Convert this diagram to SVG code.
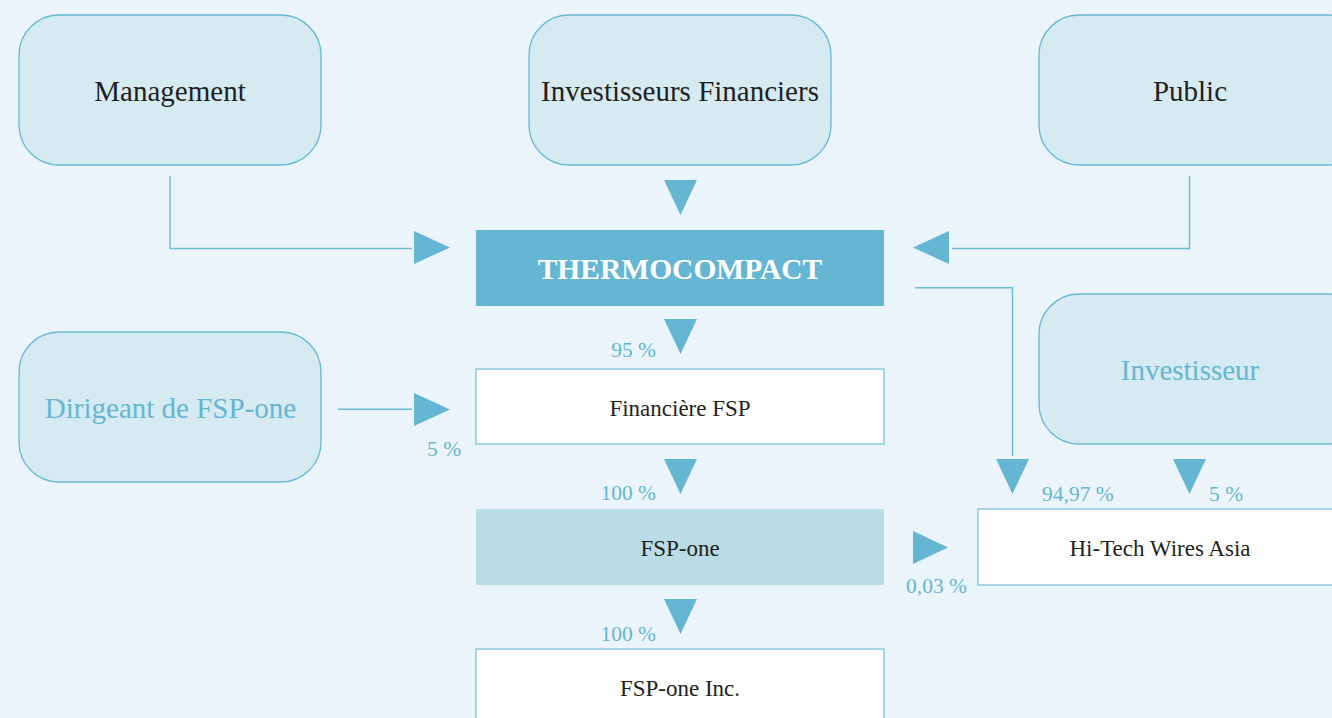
<svg xmlns="http://www.w3.org/2000/svg" width="1332" height="718" viewBox="0 0 1332 718">
  <defs>
    <style>
      .bg { fill: #EBF4FA; }
      .holder { fill: #D5EAF1; stroke: #67B8D5; stroke-width: 1.3; }
      .entity { fill: #FFFFFF; stroke: #7CC1DA; stroke-width: 1.3; }
      .main { fill: #64B6D3; }
      .sub { fill: #B9DCE6; }
      .wire { fill: none; stroke: #6BBAD6; stroke-width: 1.4; }
      .head { fill: #64B6D3; }
      .t { font-family: "Liberation Serif", "Times New Roman", serif; text-anchor: middle; }
      .dark { fill: #231F20; }
      .blue { fill: #64B6D3; }
      .big { font-size: 29px; }
      .mid { font-size: 23px; }
      .pct { font-family: "Liberation Serif", "Times New Roman", serif; font-size: 21.5px; fill: #64B6D3; }
      .title { font-size: 29.5px; font-weight: bold; fill: #FFFFFF; }
    </style>
  </defs>

  <rect class="bg" x="0" y="0" width="1332" height="718"/>

  <!-- shareholders -->
  <g id="management">
    <rect class="holder" x="19" y="15" width="302" height="150" rx="40"/>
    <text class="t dark big" x="170" y="101">Management</text>
  </g>
  <g id="investisseurs-financiers">
    <rect class="holder" x="529" y="15" width="302" height="150" rx="40"/>
    <text class="t dark big" x="680" y="101">Investisseurs Financiers</text>
  </g>
  <g id="public">
    <rect class="holder" x="1039" y="15" width="330" height="150" rx="40"/>
    <text class="t dark big" x="1190" y="101">Public</text>
  </g>
  <g id="dirigeant">
    <rect class="holder" x="19" y="332" width="302" height="150" rx="40"/>
    <text class="t blue big" x="170.5" y="418">Dirigeant de FSP-one</text>
  </g>
  <g id="investisseur">
    <rect class="holder" x="1039" y="294" width="330" height="150" rx="40"/>
    <text class="t blue big" x="1190" y="380">Investisseur</text>
  </g>

  <!-- companies -->
  <g id="thermocompact">
    <rect class="main" x="476" y="230" width="408" height="76"/>
    <text class="t title" x="680" y="279">THERMOCOMPACT</text>
  </g>
  <g id="financiere-fsp">
    <rect class="entity" x="476" y="369" width="408" height="75"/>
    <text class="t dark mid" x="680" y="416">Financière FSP</text>
  </g>
  <g id="fsp-one">
    <rect class="sub" x="476" y="509" width="408" height="76"/>
    <text class="t dark mid" x="680" y="556">FSP-one</text>
  </g>
  <g id="fsp-one-inc">
    <rect class="entity" x="476" y="649" width="408" height="90"/>
    <text class="t dark mid" x="680" y="696">FSP-one Inc.</text>
  </g>
  <g id="hi-tech-wires-asia">
    <rect class="entity" x="978" y="509" width="380" height="76"/>
    <text class="t dark mid" x="1160" y="556">Hi-Tech Wires Asia</text>
  </g>

  <!-- ownership links -->
  <g id="connectors">
    <polyline class="wire" points="170,176 170,248.5 412,248.5"/>
    <polygon class="head" points="414,231 450,247.5 414,264"/>

    <polygon class="head" points="664,180 697,180 680.5,215"/>

    <polyline class="wire" points="1189.5,176 1189.5,248.5 952,248.5"/>
    <polygon class="head" points="949,231 913,247.5 949,264"/>

    <polygon class="head" points="664,319 697,319 680.5,354"/>

    <line class="wire" x1="338" y1="409.3" x2="412" y2="409.3"/>
    <polygon class="head" points="414,393 450,409.5 414,426"/>

    <polygon class="head" points="664,459 697,459 680.5,494"/>
    <polygon class="head" points="664,599 697,599 680.5,634"/>

    <polyline class="wire" points="915,287.7 1012.5,287.7 1012.5,456"/>
    <polygon class="head" points="996,459 1029,459 1012.5,494"/>

    <polygon class="head" points="1173,459 1206,459 1189.5,494"/>

    <polygon class="head" points="913,531 948,547.5 913,564"/>
  </g>

  <!-- percentages -->
  <g id="labels">
    <text class="pct" x="656" y="357" text-anchor="end">95 %</text>
    <text class="pct" x="427" y="456">5 %</text>
    <text class="pct" x="656" y="500" text-anchor="end">100 %</text>
    <text class="pct" x="656" y="641" text-anchor="end">100 %</text>
    <text class="pct" x="1042" y="500.5">94,97 %</text>
    <text class="pct" x="1209" y="500.5">5 %</text>
    <text class="pct" x="906" y="593">0,03 %</text>
  </g>
</svg>
